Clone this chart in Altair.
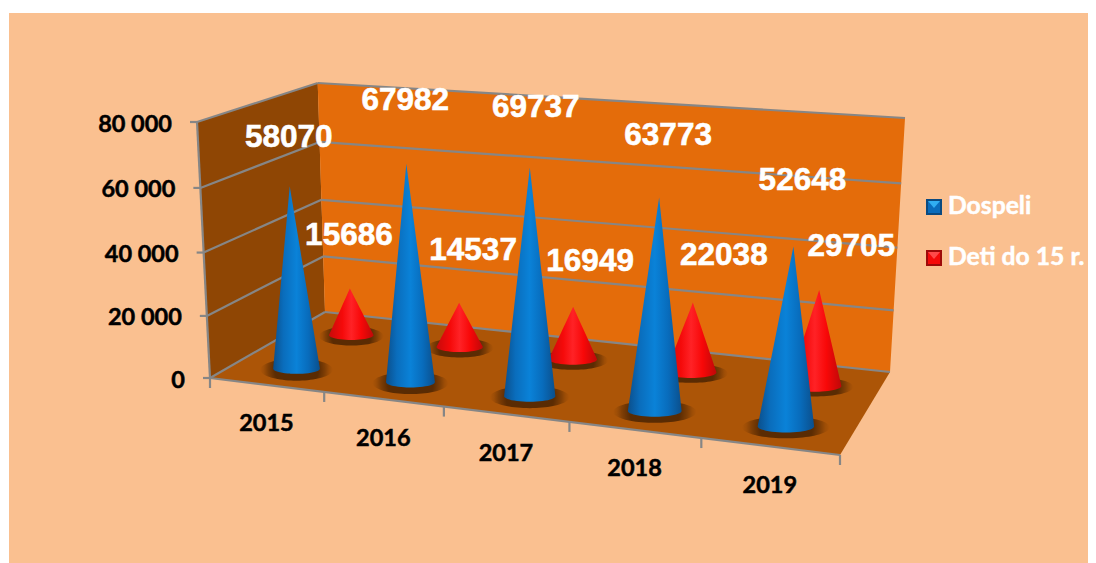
import numpy as np
import pandas as pd
import altair as alt

# ---- values ----
years = ["2015", "2016", "2017", "2018", "2019"]
dospeli = [58070, 67982, 69737, 63773, 52648]
deti = [15686, 14537, 16949, 22038, 29705]
axis_values = [0, 20000, 40000, 60000, 80000]
series_names = ["Dospeli", "Deti do 15 r."]

# ---- projection of the 3-D box on the page ----
FLOOR = [(210, 378), (840, 455), (890, 372), (325, 312)]
TOP = [(197, 122), (855, 171), (905, 118), (318, 83)]
VANISH = (524.0, 6566.0)   # where the box's vertical edges meet
VMAX = 80000.0
W, H = 1080, 555
CONE_DROP = 2.2


def homography(quad):
    src = [(0, 0), (1, 0), (1, 1), (0, 1)]
    A, b = [], []
    for (u, d), (x, y) in zip(src, quad):
        A.append([u, d, 1, 0, 0, 0, -u * x, -d * x]); b.append(x)
        A.append([0, 0, 0, u, d, 1, -u * y, -d * y]); b.append(y)
    h = np.linalg.solve(np.array(A, float), np.array(b, float))
    return np.append(h, 1).reshape(3, 3)


HF, HT = homography(FLOOR), homography(TOP)


def apply(h, u, d):
    p = h @ np.array([u, d, 1.0])
    return p[0] / p[2], p[1] / p[2]


def proj(u, d, value=0.0):
    fx, fy = apply(HF, u, d)
    rise = (fy - apply(HT, u, d)[1]) * value / VMAX
    return fx + (fx - VANISH[0]) / (VANISH[1] - fy) * rise, fy - rise


def grid_level(v):
    # the gridlines bunch slightly towards the floor, as the box's perspective does
    return v - 0.04 * v * (1 - v / VMAX)


def convex_rows(poly):
    pts = list(poly)
    xs = sorted({float(p[0]) for p in pts})
    rows = []
    for x in xs:
        ys = []
        for a, b in zip(pts, pts[1:] + pts[:1]):
            lo, hi = min(a[0], b[0]), max(a[0], b[0])
            if lo <= x <= hi:
                if a[0] == b[0]:
                    ys += [a[1], b[1]]
                else:
                    ys.append(a[1] + (b[1] - a[1]) * (x - a[0]) / (b[0] - a[0]))
        rows.append({"x": x, "y": min(ys), "y2": max(ys)})
    return pd.DataFrame(rows)


def cone_rows(value, i, depth, radius=0.042, squash=0.22):
    u = (i + 0.5) / len(years)
    cx, cy = proj(u, depth)
    ax, ay = proj(u, depth, value)
    cy += CONE_DROP
    ay += CONE_DROP
    xl = proj(u - radius, depth)[0]
    xr = proj(u + radius, depth)[0]
    hw = (xr - xl) / 2
    mid = (xl + xr) / 2
    ry = hw * squash
    xs = sorted(set(list(mid + hw * np.cos(np.linspace(np.pi, 0, 25))) + [ax]))
    rows = []
    for x in xs:
        top = cy + (ay - cy) * (x - xl) / (ax - xl) if x <= ax else cy + (ay - cy) * (xr - x) / (xr - ax)
        t = min(1.0, abs(x - mid) / hw)
        rows.append({"x": x, "y": top, "y2": cy + ry * np.sqrt(1 - t * t), "k": years[i]})
    return rows


def shadow_rows(i, depth, radius=0.042, grow=1.55, ry=11.0):
    u = (i + 0.5) / len(years)
    cx, cy = proj(u, depth)
    cy += CONE_DROP
    xl = proj(u - radius, depth)[0]
    xr = proj(u + radius, depth)[0]
    hw = (xr - xl) / 2 * grow
    mid = (xl + xr) / 2
    rows = []
    for a in np.linspace(np.pi, 0, 41):
        x = mid + hw * np.cos(a)
        dy = ry * np.sin(a)
        rows.append({"x": x, "y": cy + 1 - dy, "y2": cy + 1 + dy, "k": f"{years[i]}-{depth}"})
    return rows


X = dict(scale=alt.Scale(domain=[8, 8 + W], nice=False, zero=False), axis=None)
Y = dict(scale=alt.Scale(domain=[8 + H, 8], nice=False, zero=False), axis=None)


def area(df, fill, detail=False, **kw):
    enc = dict(x=alt.X("x:Q", **X), y=alt.Y("y:Q", **Y), y2=alt.Y2("y2:Q"))
    if detail:
        enc["detail"] = alt.Detail("k:N")
    return alt.Chart(df).mark_area(fill=fill, line=False, clip=False, **kw).encode(**enc)


def lines(rows, color="#868686", width=2):
    return alt.Chart(pd.DataFrame(rows)).mark_line(color=color, strokeWidth=width).encode(
        x=alt.X("x:Q", **X), y=alt.Y("y:Q", **Y), detail=alt.Detail("k:N"))


def texts(rows, size, color, font, align="center", weight="bold", thick=0.5):
    return alt.Chart(pd.DataFrame(rows)).mark_text(
        fontSize=size, color=color, font=font, fontWeight=weight, align=align, baseline="middle",
        stroke=color, strokeWidth=thick,
    ).encode(x=alt.X("x:Q", **X), y=alt.Y("y:Q", **Y), text=alt.Text("t:N"))


def seg(rows, k, a, b):
    rows.append({"x": a[0], "y": a[1], "k": k})
    rows.append({"x": b[0], "y": b[1], "k": k})


def linear(colors):
    return alt.LinearGradient(gradient="linear", x1=0, x2=1, y1=0, y2=0,
                              stops=[alt.GradientStop(offset=o, color=c) for o, c in colors])


def radial(stops):
    return alt.RadialGradient(gradient="radial", x1=0.5, y1=0.5, x2=0.5, y2=0.5, r1=0, r2=0.5,
                              stops=[alt.GradientStop(offset=o, color=c) for o, c in stops])


BEIGE = "#FAC090"
layers = []

# background panel
layers.append(alt.Chart(pd.DataFrame([{"x": 9, "x2": 8 + W, "y": 13, "y2": 8 + H}])).mark_rect(color=BEIGE).encode(
    x=alt.X("x:Q", **X), x2="x2:Q", y=alt.Y("y:Q", **Y), y2="y2:Q"))

# walls and floor
layers.append(area(convex_rows([proj(0, 0), proj(0, 0, VMAX), proj(0, 1, VMAX), proj(0, 1)]), "#8F4604"))
layers.append(area(convex_rows([proj(0, 1), proj(0, 1, VMAX), proj(1, 1, VMAX), proj(1, 1)]), "#E46C0A"))
layers.append(area(convex_rows([proj(0, 0), proj(0, 1), proj(1, 1), proj(1, 0)]), "#AC5507"))

# grid and axis lines
grid = []
for v in axis_values:
    g = grid_level(v)
    seg(grid, f"l{v}", proj(0, 0, g), proj(0, 1, g))
    seg(grid, f"b{v}", proj(0, 1, g), proj(1, 1, g))
    a = proj(0, 0, g)
    seg(grid, f"t{v}", (a[0] - 7, a[1]), a)
seg(grid, "axis", proj(0, 0), proj(0, 0, VMAX))
seg(grid, "front", proj(0, 0), proj(1, 0))
for i in range(len(years) + 1):
    a = proj(i / len(years), 0)
    seg(grid, f"y{i}", a, (a[0], a[1] + 10))
layers.append(lines(grid, width=2.2))

# shadows
shadow = radial([(0, "rgba(70,33,2,0.8)"), (0.6, "rgba(70,33,2,0.8)"), (0.78, "rgba(70,33,2,0.45)"),
                 (0.9, "rgba(70,33,2,0.15)"), (1, "rgba(70,33,2,0)")])
red_sh = sum([shadow_rows(i, 0.75, grow=1.45, ry=9.5) for i in range(len(years))], [])
blue_sh = sum([shadow_rows(i, 0.25, ry=11) for i in range(len(years))], [])
layers.append(area(pd.DataFrame(red_sh + blue_sh), shadow, detail=True))

# cones
red_fill = linear([(0, "#C80A0A"), (0.3, "#F50A0A"), (0.5, "#FF2226"), (0.72, "#F80808"), (1, "#BE0808")])
blue_fill = linear([(0, "#0B4F8C"), (0.22, "#0A6DBC"), (0.5, "#0A82D8"), (0.75, "#086CBC"), (1, "#0B4F8C")])
red_rows = sum([cone_rows(deti[i], i, 0.75) for i in range(len(years))], [])
blue_rows = sum([cone_rows(dospeli[i], i, 0.25) for i in range(len(years))], [])
layers.append(area(pd.DataFrame(red_rows), red_fill, detail=True))
layers.append(area(pd.DataFrame(blue_rows), blue_fill, detail=True))

# axis labels
TEXT_DROP = 2.5
y_labels = [{"x": proj(0, 0, grid_level(v))[0] - 25, "y": proj(0, 0, grid_level(v))[1] + TEXT_DROP,
             "t": f"{v:,}".replace(",", " ")} for v in axis_values]
layers.append(texts(y_labels, 23.5, "#000000", "Lato", align="right"))
x_labels = [{"x": proj((i + 0.5) / 5, 0)[0], "y": proj((i + 0.5) / 5, 0)[1] + 37 + TEXT_DROP, "t": y} for i, y in enumerate(years)]
layers.append(texts(x_labels, 23.5, "#000000", "Lato"))

# value labels sit where they were moved by hand in the original, relative to each cone's tip
blue_off = [(-1, -48), (-1, -63), (6, -60), (9, -61), (9, -66)]
red_off = [(-1, -52), (14, -52), (17, -45), (31, -47), (32, -43)]
val = []
for i in range(5):
    ax, ay = proj((i + 0.5) / 5, 0.25, dospeli[i])
    val.append({"x": ax + blue_off[i][0], "y": ay + blue_off[i][1] + CONE_DROP, "t": str(dospeli[i])})
    ax, ay = proj((i + 0.5) / 5, 0.75, deti[i])
    val.append({"x": ax + red_off[i][0], "y": ay + red_off[i][1] + CONE_DROP, "t": str(deti[i])})
layers.append(texts(val, 31.5, "#FFFFFF", "Liberation Sans", thick=0.6))

# legend
LEG_X, LEG_S = 926, 16
for name, top, dark, mid, light in [(series_names[0], 199, "#0B4A80", "#0A6CBC", "#30AEF2"),
                                    (series_names[1], 250, "#9E0A0A", "#F50A0A", "#FF4A4A")]:
    l, r, b = LEG_X, LEG_X + LEG_S, top + LEG_S
    layers.append(area(convex_rows([(l, top), (r, top), (r, b), (l, b)]), dark))
    layers.append(area(convex_rows([(l + 2, top + 2), (r - 2, top + 2), (r - 2, b - 2), (l + 2, b - 2)]), mid))
    layers.append(area(convex_rows([(l + 2, top + 2), (r - 2, top + 2), ((l + r) / 2, top + 9)]), light))
    layers.append(texts([{"x": 948, "y": top + 8, "t": name}], 24.7, "#FFFFFF", "Lato", align="left"))

chart = alt.layer(*layers).properties(
    width=W, height=H, padding=0,
    autosize=alt.AutoSizeParams(type="none"),
).configure_view(stroke=None)

chart.save("out.html", embed_options={"renderer": "svg", "actions": False})
